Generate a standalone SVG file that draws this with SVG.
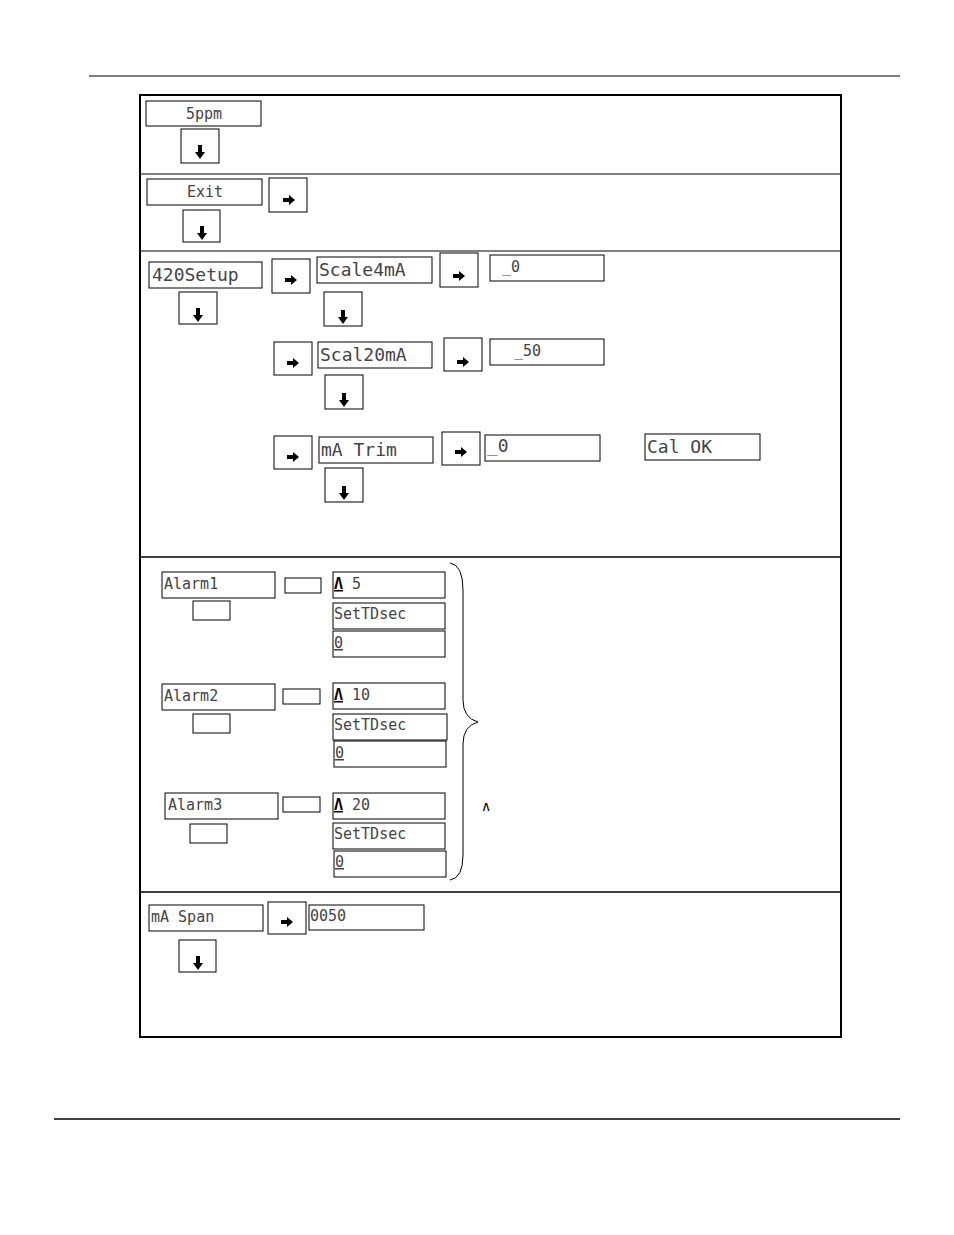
<svg xmlns="http://www.w3.org/2000/svg" width="954" height="1235" viewBox="0 0 954 1235">
<style>
.b{fill:#fff;stroke:#000;stroke-width:1}
.t{font-family:"DejaVu Sans Mono","Liberation Mono",monospace;font-size:15px;fill:#444}
.L{font-size:18px}
.u{text-decoration:underline}
</style>
<defs>
<g id="da"><rect x="-2" y="-7" width="4" height="7" fill="#000"/><path d="M-5,0 L5,0 L0,7 Z" fill="#000"/></g>
<g id="ra"><rect x="-6" y="-2" width="6" height="4" fill="#000"/><path d="M0,-5 L0,5 L6,0 Z" fill="#000"/></g>
</defs>
<rect width="954" height="1235" fill="#fff"/>
<line x1="89" y1="76" x2="900" y2="76" stroke="#000"/>
<line x1="54" y1="1119" x2="900" y2="1119" stroke="#000" stroke-width="1.5"/>
<rect x="140" y="95" width="701" height="942" fill="none" stroke="#000" stroke-width="2"/>
<g id="connectors" stroke="#000">
<line x1="140" y1="174" x2="841" y2="174"/>
<line x1="140" y1="251" x2="841" y2="251"/>
<line x1="140" y1="557" x2="841" y2="557" stroke-width="1.5"/>
<line x1="140" y1="892" x2="841" y2="892" stroke-width="1.5"/>
<path d="M450,563 Q463,565 463,590 L463,700 Q463,718 478,722 Q463,726 463,744 L463,855 Q463,878 450,880" fill="none"/>
</g>
<g id="n1"><rect class="b" x="146" y="101" width="115" height="25"/><text class="t" x="204" y="119" text-anchor="middle">5ppm</text>
<rect class="b" x="181" y="129" width="38" height="34" stroke-width="3"/><use href="#da" x="200" y="152"/></g>
<g id="n2"><rect class="b" x="147" y="179" width="115" height="26"/><text class="t" x="205" y="197" text-anchor="middle">Exit</text>
<rect class="b" x="269" y="178" width="38" height="34"/><use href="#ra" x="289" y="200"/>
<rect class="b" x="183" y="210" width="37" height="32"/><use href="#da" x="202" y="233"/></g>
<g id="n3">
<rect class="b" x="149" y="262" width="113" height="26"/><text class="t L" x="152" y="281">420Setup</text>
<rect class="b" x="272" y="259" width="38" height="34"/><use href="#ra" x="291" y="280"/>
<rect class="b" x="317" y="257" width="115" height="26"/><text class="t L" x="319" y="276">Scale4mA</text>
<rect class="b" x="440" y="253" width="38" height="34"/><use href="#ra" x="459" y="276"/>
<rect class="b" x="490" y="255" width="114" height="26"/><text class="t" x="502" y="272">_0</text>
<rect class="b" x="179" y="292" width="38" height="32"/><use href="#da" x="198" y="315"/>
<rect class="b" x="324" y="292" width="38" height="34"/><use href="#da" x="343" y="317"/>
<rect class="b" x="274" y="342" width="38" height="33"/><use href="#ra" x="293" y="363"/>
<rect class="b" x="318" y="342" width="114" height="26"/><text class="t L" x="320" y="361">Scal20mA</text>
<rect class="b" x="444" y="338" width="38" height="33"/><use href="#ra" x="463" y="362"/>
<rect class="b" x="490" y="339" width="114" height="26"/><text class="t" x="514" y="356">_50</text>
<rect class="b" x="325" y="375" width="38" height="34"/><use href="#da" x="344" y="400"/>
<rect class="b" x="274" y="436" width="38" height="33"/><use href="#ra" x="293" y="457"/>
<rect class="b" x="319" y="437" width="114" height="26"/><text class="t L" x="321" y="456">mA Trim</text>
<rect class="b" x="442" y="432" width="38" height="33"/><use href="#ra" x="461" y="452"/>
<rect class="b" x="485" y="435" width="115" height="26"/><text class="t L" x="487" y="452">_0</text>
<rect class="b" x="645" y="434" width="115" height="26"/><text class="t L" x="647" y="453">Cal OK</text>
<rect class="b" x="325" y="468" width="38" height="34"/><use href="#da" x="344" y="493"/>
</g>
<g id="n4">
<rect class="b" x="162" y="572" width="113" height="26"/><text class="t" x="164" y="589">Alarm1</text>
<rect class="b" x="285" y="578" width="36" height="15"/><rect class="b" x="193" y="601" width="37" height="19"/>
<rect class="b" x="333" y="572" width="112" height="26"/><text class="t" x="334" y="589"><tspan class="u" font-weight="bold" fill="#000">Λ</tspan> 5</text>
<rect class="b" x="333" y="603" width="112" height="26"/><text class="t" x="334" y="619">SetTDsec</text>
<rect class="b" x="333" y="631" width="112" height="26"/><text class="t u" x="334" y="648">0</text>
<rect class="b" x="162" y="684" width="113" height="26"/><text class="t" x="164" y="701">Alarm2</text>
<rect class="b" x="283" y="689" width="37" height="15"/><rect class="b" x="193" y="714" width="37" height="19"/>
<rect class="b" x="333" y="683" width="112" height="26"/><text class="t" x="334" y="700"><tspan class="u" font-weight="bold" fill="#000">Λ</tspan> 10</text>
<rect class="b" x="333" y="714" width="114" height="26"/><text class="t" x="334" y="730">SetTDsec</text>
<rect class="b" x="334" y="741" width="112" height="26"/><text class="t u" x="335" y="758">0</text>
<rect class="b" x="165" y="793" width="113" height="26"/><text class="t" x="168" y="810">Alarm3</text>
<rect class="b" x="283" y="797" width="37" height="15"/><rect class="b" x="190" y="824" width="37" height="19"/>
<rect class="b" x="333" y="793" width="112" height="26"/><text class="t" x="334" y="810"><tspan class="u" font-weight="bold" fill="#000">Λ</tspan> 20</text>
<rect class="b" x="333" y="823" width="112" height="26"/><text class="t" x="334" y="839">SetTDsec</text>
<rect class="b" x="334" y="851" width="112" height="26"/><text class="t u" x="335" y="867">0</text>
<text x="486" y="811" font-family="Liberation Sans,sans-serif" font-size="14" text-anchor="middle">∧</text>
</g>
<g id="n5">
<rect class="b" x="149" y="905" width="114" height="26"/><text class="t" x="151" y="922">mA Span</text>
<rect class="b" x="268" y="902" width="38" height="32"/><use href="#ra" x="287" y="922"/>
<rect class="b" x="309" y="905" width="115" height="25"/><text class="t" x="310" y="921">0050</text>
<rect class="b" x="179" y="940" width="37" height="32"/><use href="#da" x="198" y="963"/>
</g>
</svg>
